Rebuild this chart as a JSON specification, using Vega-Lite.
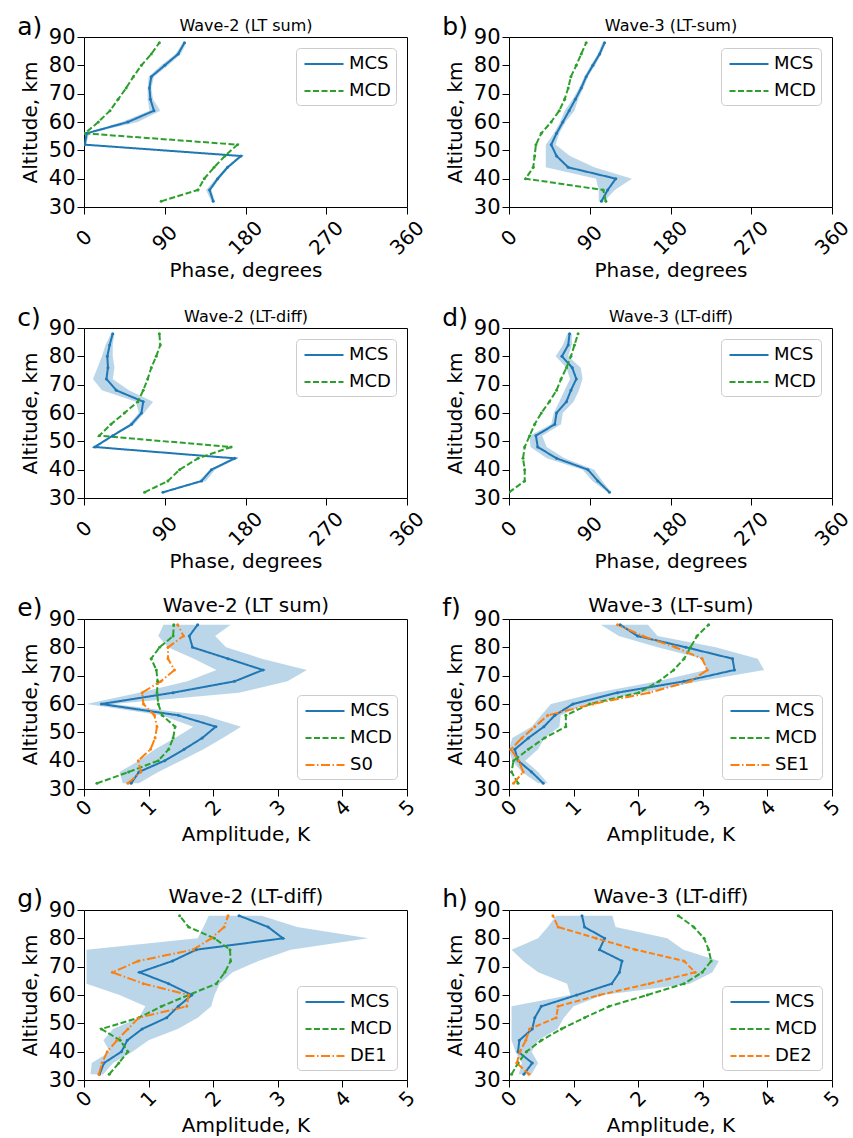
{
"$schema":"https://vega.github.io/schema/vega-lite/v6.json",
"padding":{"left":16,"top":14,"right":10,"bottom":0},
"background":"white",
"data":{"values":[
{"p":"a","alt":32,"MCS":144,"MCD":86,"lo":142,"hi":146},
{"p":"a","alt":36,"MCS":140,"MCD":127,"lo":136,"hi":142},
{"p":"a","alt":40,"MCS":149,"MCD":134,"lo":147,"hi":151},
{"p":"a","alt":44,"MCS":160,"MCD":145,"lo":158,"hi":162},
{"p":"a","alt":48,"MCS":175,"MCD":157,"lo":173,"hi":177},
{"p":"a","alt":52,"MCS":1,"MCD":171,"lo":0,"hi":2},
{"p":"a","alt":56,"MCS":3,"MCD":1,"lo":1,"hi":6},
{"p":"a","alt":60,"MCS":49,"MCD":16,"lo":42,"hi":60},
{"p":"a","alt":64,"MCS":78,"MCD":29,"lo":73,"hi":85},
{"p":"a","alt":68,"MCS":74,"MCD":38,"lo":71,"hi":77},
{"p":"a","alt":72,"MCS":73,"MCD":47,"lo":71,"hi":75},
{"p":"a","alt":76,"MCS":75,"MCD":55,"lo":72,"hi":78},
{"p":"a","alt":80,"MCS":90,"MCD":64,"lo":86,"hi":94},
{"p":"a","alt":84,"MCS":105,"MCD":75,"lo":102,"hi":108},
{"p":"a","alt":88,"MCS":112,"MCD":84,"lo":110,"hi":114},
{"p":"b","alt":32,"MCS":103,"MCD":108,"lo":100,"hi":106},
{"p":"b","alt":36,"MCS":110,"MCD":105,"lo":100,"hi":118},
{"p":"b","alt":40,"MCS":119,"MCD":18.5,"lo":97,"hi":137},
{"p":"b","alt":44,"MCS":66,"MCD":27,"lo":41,"hi":95},
{"p":"b","alt":48,"MCS":53,"MCD":28.6,"lo":41,"hi":68},
{"p":"b","alt":52,"MCS":47,"MCD":30,"lo":41,"hi":52},
{"p":"b","alt":56,"MCS":53,"MCD":36,"lo":50,"hi":56},
{"p":"b","alt":60,"MCS":60,"MCD":47,"lo":57,"hi":63},
{"p":"b","alt":64,"MCS":67,"MCD":56,"lo":62,"hi":73},
{"p":"b","alt":68,"MCS":74,"MCD":62,"lo":71,"hi":77},
{"p":"b","alt":72,"MCS":80.5,"MCD":66,"lo":78,"hi":83},
{"p":"b","alt":76,"MCS":86,"MCD":69,"lo":84,"hi":88},
{"p":"b","alt":80,"MCS":93.5,"MCD":75,"lo":91,"hi":96},
{"p":"b","alt":84,"MCS":101,"MCD":80.5,"lo":99,"hi":103},
{"p":"b","alt":88,"MCS":106.5,"MCD":86,"lo":104,"hi":108},
{"p":"c","alt":32,"MCS":88,"MCD":67.5,"lo":85,"hi":91},
{"p":"c","alt":36,"MCS":131,"MCD":93.5,"lo":128,"hi":136},
{"p":"c","alt":40,"MCS":142,"MCD":106.5,"lo":140,"hi":146},
{"p":"c","alt":44,"MCS":168,"MCD":127,"lo":165,"hi":172},
{"p":"c","alt":48,"MCS":12,"MCD":164,"lo":10,"hi":14},
{"p":"c","alt":52,"MCS":32,"MCD":17,"lo":30,"hi":34},
{"p":"c","alt":56,"MCS":53,"MCD":30,"lo":50,"hi":56},
{"p":"c","alt":60,"MCS":64,"MCD":45,"lo":61,"hi":67},
{"p":"c","alt":64,"MCS":66,"MCD":60,"lo":58,"hi":77},
{"p":"c","alt":68,"MCS":36,"MCD":66,"lo":20,"hi":50},
{"p":"c","alt":72,"MCS":25,"MCD":71,"lo":10,"hi":32},
{"p":"c","alt":76,"MCS":26.7,"MCD":75,"lo":15,"hi":34},
{"p":"c","alt":80,"MCS":26,"MCD":80.5,"lo":20,"hi":32},
{"p":"c","alt":84,"MCS":28.6,"MCD":85,"lo":24,"hi":32},
{"p":"c","alt":88,"MCS":32,"MCD":84,"lo":30,"hi":34},
{"p":"d","alt":32,"MCS":112,"MCD":0,"lo":110,"hi":114},
{"p":"d","alt":36,"MCS":99,"MCD":17.5,"lo":93,"hi":104},
{"p":"d","alt":40,"MCS":88,"MCD":17.5,"lo":82,"hi":95},
{"p":"d","alt":44,"MCS":53,"MCD":15.6,"lo":42,"hi":62},
{"p":"d","alt":48,"MCS":32,"MCD":17.5,"lo":24,"hi":42},
{"p":"d","alt":52,"MCS":30,"MCD":23,"lo":23,"hi":37},
{"p":"d","alt":56,"MCS":51,"MCD":28.6,"lo":47,"hi":58},
{"p":"d","alt":60,"MCS":53,"MCD":36,"lo":50,"hi":60},
{"p":"d","alt":64,"MCS":64,"MCD":45,"lo":56,"hi":72},
{"p":"d","alt":68,"MCS":69,"MCD":53,"lo":62,"hi":78},
{"p":"d","alt":72,"MCS":75,"MCD":58,"lo":68,"hi":82},
{"p":"d","alt":76,"MCS":70.5,"MCD":64,"lo":64,"hi":80},
{"p":"d","alt":80,"MCS":59,"MCD":69,"lo":52,"hi":66},
{"p":"d","alt":84,"MCS":66,"MCD":73,"lo":60,"hi":70},
{"p":"d","alt":88,"MCS":67.5,"MCD":77,"lo":65,"hi":70},
{"p":"e","alt":32,"MCS":0.73,"MCD":0.2,"S0":0.68,"lo":0.6,"hi":0.85},
{"p":"e","alt":36,"MCS":0.85,"MCD":0.69,"S0":0.88,"lo":0.55,"hi":1.15},
{"p":"e","alt":40,"MCS":1.25,"MCD":1.15,"S0":0.84,"lo":0.85,"hi":1.5},
{"p":"e","alt":44,"MCS":1.55,"MCD":1.31,"S0":1.03,"lo":1.1,"hi":1.85},
{"p":"e","alt":48,"MCS":1.83,"MCD":1.38,"S0":1.1,"lo":1.41,"hi":2.15},
{"p":"e","alt":52,"MCS":2.04,"MCD":1.41,"S0":1.13,"lo":1.69,"hi":2.43},
{"p":"e","alt":56,"MCS":1.46,"MCD":1.21,"S0":1.09,"lo":1.2,"hi":1.85},
{"p":"e","alt":60,"MCS":0.27,"MCD":1.15,"S0":0.92,"lo":0.04,"hi":0.45},
{"p":"e","alt":64,"MCS":1.38,"MCD":1.13,"S0":0.9,"lo":0.85,"hi":2.4},
{"p":"e","alt":68,"MCS":2.33,"MCD":1.14,"S0":1.19,"lo":1.6,"hi":3.15},
{"p":"e","alt":72,"MCS":2.77,"MCD":1.12,"S0":1.4,"lo":2.05,"hi":3.45},
{"p":"e","alt":76,"MCS":2.23,"MCD":1.04,"S0":1.3,"lo":1.7,"hi":2.75},
{"p":"e","alt":80,"MCS":1.68,"MCD":1.17,"S0":1.3,"lo":1.3,"hi":2.2},
{"p":"e","alt":84,"MCS":1.63,"MCD":1.38,"S0":1.54,"lo":1.15,"hi":2.03},
{"p":"e","alt":88,"MCS":1.76,"MCD":1.39,"S0":1.45,"lo":1.23,"hi":2.27},
{"p":"f","alt":32,"MCS":0.53,"MCD":0.14,"SE1":0.07,"lo":0.45,"hi":0.6},
{"p":"f","alt":36,"MCS":0.35,"MCD":0.04,"SE1":0.22,"lo":0.2,"hi":0.45},
{"p":"f","alt":40,"MCS":0.14,"MCD":0.07,"SE1":0.15,"lo":0.05,"hi":0.25},
{"p":"f","alt":44,"MCS":0.09,"MCD":0.3,"SE1":0.03,"lo":0.0,"hi":0.45},
{"p":"f","alt":48,"MCS":0.3,"MCD":0.55,"SE1":0.2,"lo":0.05,"hi":0.55},
{"p":"f","alt":52,"MCS":0.54,"MCD":0.88,"SE1":0.4,"lo":0.35,"hi":0.78},
{"p":"f","alt":56,"MCS":0.71,"MCD":0.88,"SE1":0.6,"lo":0.5,"hi":0.8},
{"p":"f","alt":60,"MCS":0.99,"MCD":1.25,"SE1":1.3,"lo":0.65,"hi":1.2},
{"p":"f","alt":64,"MCS":1.68,"MCD":2.01,"SE1":2.17,"lo":1.35,"hi":2.05},
{"p":"f","alt":68,"MCS":2.71,"MCD":2.32,"SE1":2.81,"lo":2.3,"hi":2.95},
{"p":"f","alt":72,"MCS":3.49,"MCD":2.55,"SE1":3.07,"lo":3.05,"hi":3.95},
{"p":"f","alt":76,"MCS":3.46,"MCD":2.71,"SE1":2.99,"lo":3.0,"hi":3.85},
{"p":"f","alt":80,"MCS":2.74,"MCD":2.81,"SE1":2.58,"lo":2.3,"hi":3.2},
{"p":"f","alt":84,"MCS":1.99,"MCD":2.91,"SE1":2.07,"lo":1.7,"hi":2.3},
{"p":"f","alt":88,"MCS":1.72,"MCD":3.09,"SE1":1.68,"lo":1.42,"hi":2.15},
{"p":"g","alt":32,"MCS":0.24,"MCD":0.39,"DE1":0.23,"lo":0.1,"hi":0.3},
{"p":"g","alt":36,"MCS":0.31,"MCD":0.54,"DE1":0.28,"lo":0.12,"hi":0.45},
{"p":"g","alt":40,"MCS":0.58,"MCD":0.68,"DE1":0.36,"lo":0.4,"hi":0.75},
{"p":"g","alt":44,"MCS":0.67,"MCD":0.56,"DE1":0.51,"lo":0.3,"hi":1.0},
{"p":"g","alt":48,"MCS":0.9,"MCD":0.27,"DE1":0.68,"lo":0.45,"hi":1.45},
{"p":"g","alt":52,"MCS":1.28,"MCD":0.85,"DE1":0.85,"lo":0.85,"hi":1.76},
{"p":"g","alt":56,"MCS":1.46,"MCD":1.2,"DE1":1.59,"lo":0.95,"hi":1.97},
{"p":"g","alt":60,"MCS":1.67,"MCD":1.62,"DE1":1.62,"lo":0.55,"hi":2.02},
{"p":"g","alt":64,"MCS":1.31,"MCD":2.05,"DE1":0.92,"lo":0.04,"hi":2.1},
{"p":"g","alt":68,"MCS":0.86,"MCD":2.18,"DE1":0.44,"lo":0.04,"hi":2.3},
{"p":"g","alt":72,"MCS":1.37,"MCD":2.27,"DE1":0.84,"lo":0.04,"hi":2.7},
{"p":"g","alt":76,"MCS":1.74,"MCD":2.26,"DE1":1.69,"lo":0.04,"hi":3.2},
{"p":"g","alt":80,"MCS":3.08,"MCD":2.02,"DE1":1.97,"lo":1.76,"hi":4.4},
{"p":"g","alt":84,"MCS":2.85,"MCD":1.62,"DE1":2.17,"lo":1.85,"hi":3.3},
{"p":"g","alt":88,"MCS":2.4,"MCD":1.48,"DE1":2.23,"lo":1.93,"hi":2.75},
{"p":"h","alt":32,"MCS":0.23,"MCD":0.04,"DE2":0.31,"lo":0.15,"hi":0.35},
{"p":"h","alt":36,"MCS":0.36,"MCD":0.14,"DE2":0.12,"lo":0.2,"hi":0.45},
{"p":"h","alt":40,"MCS":0.14,"MCD":0.27,"DE2":0.17,"lo":0.1,"hi":0.35},
{"p":"h","alt":44,"MCS":0.16,"MCD":0.5,"DE2":0.26,"lo":0.04,"hi":0.45},
{"p":"h","alt":48,"MCS":0.36,"MCD":0.81,"DE2":0.32,"lo":0.04,"hi":0.75},
{"p":"h","alt":52,"MCS":0.4,"MCD":1.17,"DE2":0.73,"lo":0.04,"hi":0.85},
{"p":"h","alt":56,"MCS":0.5,"MCD":1.55,"DE2":0.76,"lo":0.04,"hi":1.0},
{"p":"h","alt":60,"MCS":1.05,"MCD":2.14,"DE2":1.4,"lo":0.95,"hi":1.45},
{"p":"h","alt":64,"MCS":1.59,"MCD":2.71,"DE2":2.17,"lo":0.9,"hi":2.8},
{"p":"h","alt":68,"MCS":1.71,"MCD":2.99,"DE2":2.88,"lo":0.45,"hi":3.15},
{"p":"h","alt":72,"MCS":1.75,"MCD":3.13,"DE2":2.71,"lo":0.22,"hi":3.25},
{"p":"h","alt":76,"MCS":1.4,"MCD":3.09,"DE2":1.96,"lo":0.04,"hi":2.7},
{"p":"h","alt":80,"MCS":1.48,"MCD":3.02,"DE2":1.35,"lo":0.45,"hi":2.45},
{"p":"h","alt":84,"MCS":1.17,"MCD":2.86,"DE2":0.76,"lo":0.6,"hi":1.65},
{"p":"h","alt":88,"MCS":1.13,"MCD":2.62,"DE2":0.68,"lo":0.73,"hi":1.6}
]},
"columns":2,
"spacing":{"row":121,"column":102},
"bounds":"flush",
"resolve":{"scale":{"color":"independent","strokeDash":"independent"},"legend":{"color":"independent","strokeDash":"independent"}},
"concat":[
{"title":{"text":"a)","anchor":"start","frame":"bounds","fontSize":25,"baseline":"alphabetic","offset":0,"dy":43,"dx":-3},
 "width":323,"height":170,
 "transform":[{"filter":"datum.p==='a'"}],
 "resolve":{"axis":{"x":"independent"}},
 "layer":[
  {"mark":{"type":"area","orient":"horizontal","color":"#1f77b4","opacity":0.3,"clip":true},
   "encoding":{
    "y":{"field":"alt","type":"quantitative","scale":{"domain":[30,90]},"axis":{"values":[30,40,50,60,70,80,90],"title":"Altitude, km","labelPadding":2,"titlePadding":8}},
    "x":{"field":"lo","type":"quantitative","scale":{"domain":[0,360]},"axis":{"orient":"top","title":"Wave-2 (LT sum)","labels":false,"ticks":false,"titleFontSize":16,"titlePadding":4}},
    "x2":{"field":"hi"}}},
  {"transform":[{"fold":["MCS","MCD"],"as":["series","val"]},{"filter":"isValid(datum.val)"}],
   "mark":{"type":"line","strokeWidth":2,"clip":true,"point":{"filled":true,"size":9}},
   "encoding":{
    "y":{"field":"alt","type":"quantitative","scale":{"domain":[30,90]},"axis":{"values":[30,40,50,60,70,80,90],"title":"Altitude, km","labelPadding":2,"titlePadding":8}},
    "x":{"field":"val","type":"quantitative","scale":{"domain":[0,360]},"axis":{"orient":"bottom","values":[0,90,180,270,360],"title":"Phase, degrees","labelFontSize":20,"labelAngle":-45,"labelAlign":"center","labelBaseline":"middle","labelPadding":24,"titlePadding":2}},
    "color":{"field":"series","type":"nominal","scale":{"domain":["MCS","MCD"],"range":["#1f77b4","#2ca02c"]},"legend":{"title":null,"orient":"top-right","offset":11}},
    "strokeDash":{"field":"series","type":"nominal","scale":{"domain":["MCS","MCD"],"range":[[1,0],[6,2.5]]},"legend":{"title":null,"orient":"top-right","offset":11}},
    "order":{"field":"alt","type":"quantitative"}}}
 ]},
{"title":{"text":"b)","anchor":"start","frame":"bounds","fontSize":25,"baseline":"alphabetic","offset":0,"dy":43,"dx":-3},
 "width":323,"height":170,
 "transform":[{"filter":"datum.p==='b'"}],
 "resolve":{"axis":{"x":"independent"}},
 "layer":[
  {"mark":{"type":"area","orient":"horizontal","color":"#1f77b4","opacity":0.3,"clip":true},
   "encoding":{
    "y":{"field":"alt","type":"quantitative","scale":{"domain":[30,90]},"axis":{"values":[30,40,50,60,70,80,90],"title":"Altitude, km","labelPadding":2,"titlePadding":8}},
    "x":{"field":"lo","type":"quantitative","scale":{"domain":[0,360]},"axis":{"orient":"top","title":"Wave-3 (LT-sum)","labels":false,"ticks":false,"titleFontSize":16,"titlePadding":4}},
    "x2":{"field":"hi"}}},
  {"transform":[{"fold":["MCS","MCD"],"as":["series","val"]},{"filter":"isValid(datum.val)"}],
   "mark":{"type":"line","strokeWidth":2,"clip":true,"point":{"filled":true,"size":9}},
   "encoding":{
    "y":{"field":"alt","type":"quantitative","scale":{"domain":[30,90]},"axis":{"values":[30,40,50,60,70,80,90],"title":"Altitude, km","labelPadding":2,"titlePadding":8}},
    "x":{"field":"val","type":"quantitative","scale":{"domain":[0,360]},"axis":{"orient":"bottom","values":[0,90,180,270,360],"title":"Phase, degrees","labelFontSize":20,"labelAngle":-45,"labelAlign":"center","labelBaseline":"middle","labelPadding":24,"titlePadding":2}},
    "color":{"field":"series","type":"nominal","scale":{"domain":["MCS","MCD"],"range":["#1f77b4","#2ca02c"]},"legend":{"title":null,"orient":"top-right","offset":11}},
    "strokeDash":{"field":"series","type":"nominal","scale":{"domain":["MCS","MCD"],"range":[[1,0],[6,2.5]]},"legend":{"title":null,"orient":"top-right","offset":11}},
    "order":{"field":"alt","type":"quantitative"}}}
 ]},
{"title":{"text":"c)","anchor":"start","frame":"bounds","fontSize":25,"baseline":"alphabetic","offset":0,"dy":43,"dx":-3},
 "width":323,"height":170,
 "transform":[{"filter":"datum.p==='c'"}],
 "resolve":{"axis":{"x":"independent"}},
 "layer":[
  {"mark":{"type":"area","orient":"horizontal","color":"#1f77b4","opacity":0.3,"clip":true},
   "encoding":{
    "y":{"field":"alt","type":"quantitative","scale":{"domain":[30,90]},"axis":{"values":[30,40,50,60,70,80,90],"title":"Altitude, km","labelPadding":2,"titlePadding":8}},
    "x":{"field":"lo","type":"quantitative","scale":{"domain":[0,360]},"axis":{"orient":"top","title":"Wave-2 (LT-diff)","labels":false,"ticks":false,"titleFontSize":16,"titlePadding":4}},
    "x2":{"field":"hi"}}},
  {"transform":[{"fold":["MCS","MCD"],"as":["series","val"]},{"filter":"isValid(datum.val)"}],
   "mark":{"type":"line","strokeWidth":2,"clip":true,"point":{"filled":true,"size":9}},
   "encoding":{
    "y":{"field":"alt","type":"quantitative","scale":{"domain":[30,90]},"axis":{"values":[30,40,50,60,70,80,90],"title":"Altitude, km","labelPadding":2,"titlePadding":8}},
    "x":{"field":"val","type":"quantitative","scale":{"domain":[0,360]},"axis":{"orient":"bottom","values":[0,90,180,270,360],"title":"Phase, degrees","labelFontSize":20,"labelAngle":-45,"labelAlign":"center","labelBaseline":"middle","labelPadding":24,"titlePadding":2}},
    "color":{"field":"series","type":"nominal","scale":{"domain":["MCS","MCD"],"range":["#1f77b4","#2ca02c"]},"legend":{"title":null,"orient":"top-right","offset":11}},
    "strokeDash":{"field":"series","type":"nominal","scale":{"domain":["MCS","MCD"],"range":[[1,0],[6,2.5]]},"legend":{"title":null,"orient":"top-right","offset":11}},
    "order":{"field":"alt","type":"quantitative"}}}
 ]},
{"title":{"text":"d)","anchor":"start","frame":"bounds","fontSize":25,"baseline":"alphabetic","offset":0,"dy":43,"dx":-3},
 "width":323,"height":170,
 "transform":[{"filter":"datum.p==='d'"}],
 "resolve":{"axis":{"x":"independent"}},
 "layer":[
  {"mark":{"type":"area","orient":"horizontal","color":"#1f77b4","opacity":0.3,"clip":true},
   "encoding":{
    "y":{"field":"alt","type":"quantitative","scale":{"domain":[30,90]},"axis":{"values":[30,40,50,60,70,80,90],"title":"Altitude, km","labelPadding":2,"titlePadding":8}},
    "x":{"field":"lo","type":"quantitative","scale":{"domain":[0,360]},"axis":{"orient":"top","title":"Wave-3 (LT-diff)","labels":false,"ticks":false,"titleFontSize":16,"titlePadding":4}},
    "x2":{"field":"hi"}}},
  {"transform":[{"fold":["MCS","MCD"],"as":["series","val"]},{"filter":"isValid(datum.val)"}],
   "mark":{"type":"line","strokeWidth":2,"clip":true,"point":{"filled":true,"size":9}},
   "encoding":{
    "y":{"field":"alt","type":"quantitative","scale":{"domain":[30,90]},"axis":{"values":[30,40,50,60,70,80,90],"title":"Altitude, km","labelPadding":2,"titlePadding":8}},
    "x":{"field":"val","type":"quantitative","scale":{"domain":[0,360]},"axis":{"orient":"bottom","values":[0,90,180,270,360],"title":"Phase, degrees","labelFontSize":20,"labelAngle":-45,"labelAlign":"center","labelBaseline":"middle","labelPadding":24,"titlePadding":2}},
    "color":{"field":"series","type":"nominal","scale":{"domain":["MCS","MCD"],"range":["#1f77b4","#2ca02c"]},"legend":{"title":null,"orient":"top-right","offset":11}},
    "strokeDash":{"field":"series","type":"nominal","scale":{"domain":["MCS","MCD"],"range":[[1,0],[6,2.5]]},"legend":{"title":null,"orient":"top-right","offset":11}},
    "order":{"field":"alt","type":"quantitative"}}}
 ]},
{"title":{"text":"e)","anchor":"start","frame":"bounds","fontSize":25,"baseline":"alphabetic","offset":0,"dy":46,"dx":-3},
 "width":323,"height":170,
 "transform":[{"filter":"datum.p==='e'"}],
 "resolve":{"axis":{"x":"independent"}},
 "layer":[
  {"mark":{"type":"area","orient":"horizontal","color":"#1f77b4","opacity":0.3,"clip":true},
   "encoding":{
    "y":{"field":"alt","type":"quantitative","scale":{"domain":[30,90]},"axis":{"values":[30,40,50,60,70,80,90],"title":"Altitude, km","labelPadding":2,"titlePadding":8}},
    "x":{"field":"lo","type":"quantitative","scale":{"domain":[0,5]},"axis":{"orient":"top","title":"Wave-2 (LT sum)","labels":false,"ticks":false,"titleFontSize":20,"titlePadding":4}},
    "x2":{"field":"hi"}}},
  {"transform":[{"fold":["MCS","MCD","S0"],"as":["series","val"]},{"filter":"isValid(datum.val)"}],
   "mark":{"type":"line","strokeWidth":2,"clip":true,"point":{"filled":true,"size":9}},
   "encoding":{
    "y":{"field":"alt","type":"quantitative","scale":{"domain":[30,90]},"axis":{"values":[30,40,50,60,70,80,90],"title":"Altitude, km","labelPadding":2,"titlePadding":8}},
    "x":{"field":"val","type":"quantitative","scale":{"domain":[0,5]},"axis":{"orient":"bottom","values":[0,1,2,3,4,5],"title":"Amplitude, K","labelFontSize":20,"labelAngle":-45,"labelAlign":"center","labelBaseline":"middle","labelPadding":12,"titlePadding":5}},
    "color":{"field":"series","type":"nominal","scale":{"domain":["MCS","MCD","S0"],"range":["#1f77b4","#2ca02c","#ff7f0e"]},"legend":{"title":null,"orient":"bottom-right","offset":10}},
    "strokeDash":{"field":"series","type":"nominal","scale":{"domain":["MCS","MCD","S0"],"range":[[1,0],[6,2.5],[9,2.5,1.5,2.5]]},"legend":{"title":null,"orient":"bottom-right","offset":10}},
    "order":{"field":"alt","type":"quantitative"}}}
 ]},
{"title":{"text":"f)","anchor":"start","frame":"bounds","fontSize":25,"baseline":"alphabetic","offset":0,"dy":46,"dx":-3},
 "width":323,"height":170,
 "transform":[{"filter":"datum.p==='f'"}],
 "resolve":{"axis":{"x":"independent"}},
 "layer":[
  {"mark":{"type":"area","orient":"horizontal","color":"#1f77b4","opacity":0.3,"clip":true},
   "encoding":{
    "y":{"field":"alt","type":"quantitative","scale":{"domain":[30,90]},"axis":{"values":[30,40,50,60,70,80,90],"title":"Altitude, km","labelPadding":2,"titlePadding":8}},
    "x":{"field":"lo","type":"quantitative","scale":{"domain":[0,5]},"axis":{"orient":"top","title":"Wave-3 (LT-sum)","labels":false,"ticks":false,"titleFontSize":20,"titlePadding":4}},
    "x2":{"field":"hi"}}},
  {"transform":[{"fold":["MCS","MCD","SE1"],"as":["series","val"]},{"filter":"isValid(datum.val)"}],
   "mark":{"type":"line","strokeWidth":2,"clip":true,"point":{"filled":true,"size":9}},
   "encoding":{
    "y":{"field":"alt","type":"quantitative","scale":{"domain":[30,90]},"axis":{"values":[30,40,50,60,70,80,90],"title":"Altitude, km","labelPadding":2,"titlePadding":8}},
    "x":{"field":"val","type":"quantitative","scale":{"domain":[0,5]},"axis":{"orient":"bottom","values":[0,1,2,3,4,5],"title":"Amplitude, K","labelFontSize":20,"labelAngle":-45,"labelAlign":"center","labelBaseline":"middle","labelPadding":12,"titlePadding":5}},
    "color":{"field":"series","type":"nominal","scale":{"domain":["MCS","MCD","SE1"],"range":["#1f77b4","#2ca02c","#ff7f0e"]},"legend":{"title":null,"orient":"bottom-right","offset":10}},
    "strokeDash":{"field":"series","type":"nominal","scale":{"domain":["MCS","MCD","SE1"],"range":[[1,0],[6,2.5],[9,2.5,1.5,2.5]]},"legend":{"title":null,"orient":"bottom-right","offset":10}},
    "order":{"field":"alt","type":"quantitative"}}}
 ]},
{"title":{"text":"g)","anchor":"start","frame":"bounds","fontSize":25,"baseline":"alphabetic","offset":0,"dy":46,"dx":-3},
 "width":323,"height":170,
 "transform":[{"filter":"datum.p==='g'"}],
 "resolve":{"axis":{"x":"independent"}},
 "layer":[
  {"mark":{"type":"area","orient":"horizontal","color":"#1f77b4","opacity":0.3,"clip":true},
   "encoding":{
    "y":{"field":"alt","type":"quantitative","scale":{"domain":[30,90]},"axis":{"values":[30,40,50,60,70,80,90],"title":"Altitude, km","labelPadding":2,"titlePadding":8}},
    "x":{"field":"lo","type":"quantitative","scale":{"domain":[0,5]},"axis":{"orient":"top","title":"Wave-2 (LT-diff)","labels":false,"ticks":false,"titleFontSize":20,"titlePadding":4}},
    "x2":{"field":"hi"}}},
  {"transform":[{"fold":["MCS","MCD","DE1"],"as":["series","val"]},{"filter":"isValid(datum.val)"}],
   "mark":{"type":"line","strokeWidth":2,"clip":true,"point":{"filled":true,"size":9}},
   "encoding":{
    "y":{"field":"alt","type":"quantitative","scale":{"domain":[30,90]},"axis":{"values":[30,40,50,60,70,80,90],"title":"Altitude, km","labelPadding":2,"titlePadding":8}},
    "x":{"field":"val","type":"quantitative","scale":{"domain":[0,5]},"axis":{"orient":"bottom","values":[0,1,2,3,4,5],"title":"Amplitude, K","labelFontSize":20,"labelAngle":-45,"labelAlign":"center","labelBaseline":"middle","labelPadding":12,"titlePadding":5}},
    "color":{"field":"series","type":"nominal","scale":{"domain":["MCS","MCD","DE1"],"range":["#1f77b4","#2ca02c","#ff7f0e"]},"legend":{"title":null,"orient":"bottom-right","offset":10}},
    "strokeDash":{"field":"series","type":"nominal","scale":{"domain":["MCS","MCD","DE1"],"range":[[1,0],[6,2.5],[9,2.5,1.5,2.5]]},"legend":{"title":null,"orient":"bottom-right","offset":10}},
    "order":{"field":"alt","type":"quantitative"}}}
 ]},
{"title":{"text":"h)","anchor":"start","frame":"bounds","fontSize":25,"baseline":"alphabetic","offset":0,"dy":46,"dx":-3},
 "width":323,"height":170,
 "transform":[{"filter":"datum.p==='h'"}],
 "resolve":{"axis":{"x":"independent"}},
 "layer":[
  {"mark":{"type":"area","orient":"horizontal","color":"#1f77b4","opacity":0.3,"clip":true},
   "encoding":{
    "y":{"field":"alt","type":"quantitative","scale":{"domain":[30,90]},"axis":{"values":[30,40,50,60,70,80,90],"title":"Altitude, km","labelPadding":2,"titlePadding":8}},
    "x":{"field":"lo","type":"quantitative","scale":{"domain":[0,5]},"axis":{"orient":"top","title":"Wave-3 (LT-diff)","labels":false,"ticks":false,"titleFontSize":20,"titlePadding":4}},
    "x2":{"field":"hi"}}},
  {"transform":[{"fold":["MCS","MCD","DE2"],"as":["series","val"]},{"filter":"isValid(datum.val)"}],
   "mark":{"type":"line","strokeWidth":2,"clip":true,"point":{"filled":true,"size":9}},
   "encoding":{
    "y":{"field":"alt","type":"quantitative","scale":{"domain":[30,90]},"axis":{"values":[30,40,50,60,70,80,90],"title":"Altitude, km","labelPadding":2,"titlePadding":8}},
    "x":{"field":"val","type":"quantitative","scale":{"domain":[0,5]},"axis":{"orient":"bottom","values":[0,1,2,3,4,5],"title":"Amplitude, K","labelFontSize":20,"labelAngle":-45,"labelAlign":"center","labelBaseline":"middle","labelPadding":12,"titlePadding":5}},
    "color":{"field":"series","type":"nominal","scale":{"domain":["MCS","MCD","DE2"],"range":["#1f77b4","#2ca02c","#ff7f0e"]},"legend":{"title":null,"orient":"bottom-right","offset":10}},
    "strokeDash":{"field":"series","type":"nominal","scale":{"domain":["MCS","MCD","DE2"],"range":[[1,0],[6,2.5],[6,2.5]]},"legend":{"title":null,"orient":"bottom-right","offset":10}},
    "order":{"field":"alt","type":"quantitative"}}}
 ]}
],
"config":{
 "font":"DejaVu Sans",
 "view":{"stroke":"#000000","strokeWidth":1},
 "axis":{"grid":false,"domain":false,"tickColor":"#000000","tickSize":7,"tickWidth":1,"labelColor":"#000000","labelFontSize":21,"titleColor":"#000000","titleFontSize":20,"titleFontWeight":"normal","labelFont":"DejaVu Sans","titleFont":"DejaVu Sans"},
 "legend":{"labelFont":"DejaVu Sans","labelFontSize":18,"labelColor":"#000000","strokeColor":"#cccccc","fillColor":"#ffffff","cornerRadius":4,"padding":5,"symbolType":"M-1.95,0H1.95","symbolSize":400,"symbolStrokeWidth":2,"rowPadding":7,"labelOffset":14,"symbolOffset":12},
 "title":{"font":"DejaVu Sans","fontWeight":"normal","color":"#000000"}
}
}
